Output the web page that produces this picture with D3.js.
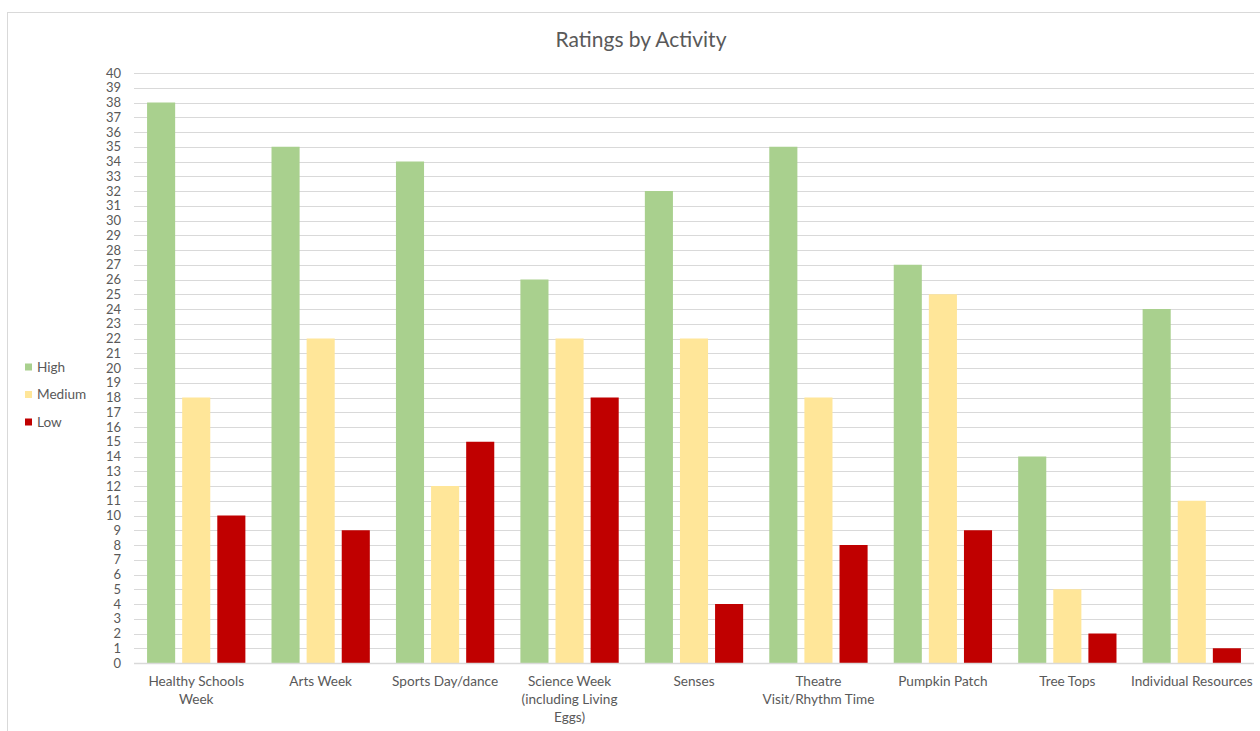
<!DOCTYPE html>
<html>
<head>
<meta charset="utf-8">
<script src="https://cdn.jsdelivr.net/npm/d3@7"></script>
<style>
  body { margin: 0; background: #fff; }
  svg { display: block; font-family: Lato, "Open Sans", sans-serif; }
</style>
</head>
<body>
<svg id="chart" width="1260" height="731"></svg>
<script>
// chart data
const categories = [
  ['Healthy Schools', 'Week'],
  ['Arts Week'],
  ['Sports Day/dance'],
  ['Science Week', '(including Living', 'Eggs)'],
  ['Senses'],
  ['Theatre', 'Visit/Rhythm Time'],
  ['Pumpkin Patch'],
  ['Tree Tops'],
  ['Individual Resources']
];
const high = [38, 35, 34, 26, 32, 35, 27, 14, 24];
const medium = [18, 22, 12, 22, 22, 18, 25, 5, 11];
const low = [10, 9, 15, 18, 4, 8, 9, 2, 1];
const seriesNames = ['High', 'Medium', 'Low'];
const seriesColors = ['#A9D08E', '#FFE699', '#C00000'];
const yTicks = d3.range(0, 41);

const series = [high, medium, low];

const svg = d3.select('#chart');

// outer chart border (runs off the right / bottom like the screenshot)
svg.append('rect')
  .attr('x', 7.5).attr('y', 12.5)
  .attr('width', 1300).attr('height', 800)
  .attr('fill', 'none').attr('stroke', '#d9d9d9');

const plotLeft = 134, plotRight = 1254, plotTop = 73, plotBottom = 663;

const x0 = d3.scaleBand().domain(d3.range(categories.length)).range([plotLeft, plotRight]).paddingInner(0.21).paddingOuter(0.105);
const x1 = d3.scaleBand().domain(d3.range(series.length)).range([0, x0.bandwidth()]).paddingInner(0.2);
const y = d3.scaleLinear().domain([0, 40]).range([plotBottom, plotTop]);

// gridlines
svg.append('g')
  .selectAll('line')
  .data(yTicks)
  .join('line')
  .attr('x1', plotLeft).attr('x2', plotRight)
  .attr('y1', d => Math.round(y(d)) + 0.5).attr('y2', d => Math.round(y(d)) + 0.5)
  .attr('stroke', '#d9d9d9').attr('stroke-width', 1);

// y tick labels
const yAxis = svg.append('g')
  .attr('transform', `translate(${plotLeft - 13},0)`)
  .call(d3.axisLeft(y).tickValues(yTicks).tickSize(0).tickPadding(0));
yAxis.select('.domain').remove();
yAxis.selectAll('text')
  .attr('fill', '#595959').attr('font-size', 13).attr('font-family', 'Lato, "Open Sans", sans-serif');

// bars
const groups = svg.append('g')
  .selectAll('g')
  .data(categories.map((c, i) => i))
  .join('g')
  .attr('transform', i => `translate(${x0(i)},0)`);

groups.selectAll('rect')
  .data(i => series.map((s, k) => ({ k, v: s[i] })))
  .join('rect')
  .attr('x', d => x1(d.k))
  .attr('width', x1.bandwidth())
  .attr('y', d => y(d.v))
  .attr('height', d => y(0) - y(d.v))
  .attr('fill', d => seriesColors[d.k]);

// baseline
svg.append('line')
  .attr('x1', plotLeft).attr('x2', plotRight)
  .attr('y1', plotBottom + 0.5).attr('y2', plotBottom + 0.5)
  .attr('stroke', '#d9d9d9').attr('stroke-width', 1.5);

// x labels
const xLabels = svg.append('g')
  .selectAll('text')
  .data(categories)
  .join('text')
  .attr('x', (d, i) => x0(i) + x0.bandwidth() / 2)
  .attr('y', 686)
  .attr('text-anchor', 'middle')
  .attr('fill', '#595959')
  .attr('font-size', 13.6);
xLabels.selectAll('tspan')
  .data(d => d)
  .join('tspan')
  .attr('x', function () { return this.parentNode.getAttribute('x'); })
  .attr('dy', (d, j) => j === 0 ? 0 : 18)
  .text(d => d);

// title
svg.append('text')
  .attr('x', 641).attr('y', 47)
  .attr('text-anchor', 'middle')
  .attr('fill', '#595959')
  .attr('font-size', 21)
  .text('Ratings by Activity');

// legend
const legend = svg.append('g')
  .selectAll('g')
  .data(seriesNames)
  .join('g')
  .attr('transform', (d, i) => `translate(25,${367 + i * 27.5})`);
legend.append('rect')
  .attr('x', 0).attr('y', -3.5)
  .attr('width', 7).attr('height', 7)
  .attr('fill', (d, i) => seriesColors[i]);
legend.append('text')
  .attr('x', 12).attr('y', 4.5)
  .attr('fill', '#595959')
  .attr('font-size', 13.6)
  .text(d => d);
</script>
</body>
</html>
